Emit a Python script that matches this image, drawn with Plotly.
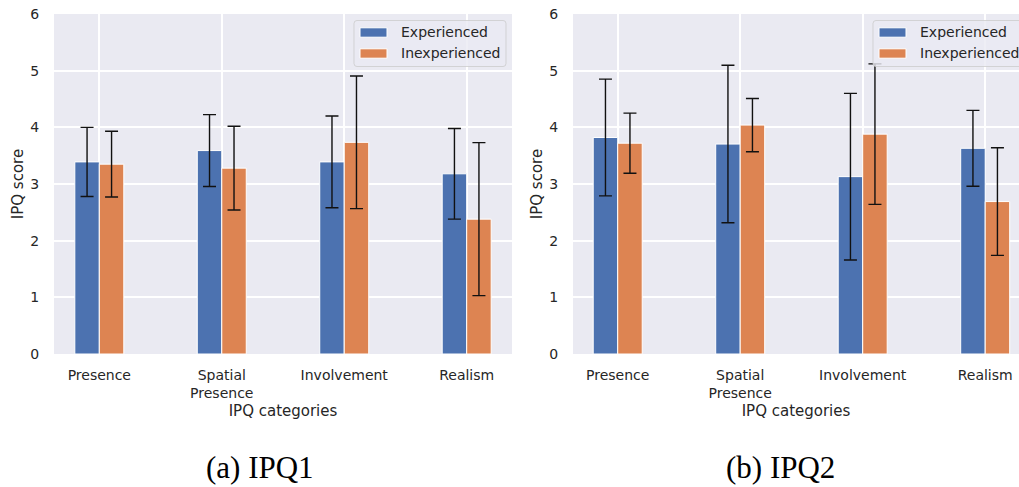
import plotly.graph_objects as go

W, H = 1019, 487

categories = ["Presence", "Spatial<br>Presence", "Involvement", "Realism"]
groups = ["Experienced", "Inexperienced"]

# IPQ1
ipq1_exp = [3.39, 3.59, 3.39, 3.18]
ipq1_exp_err = [0.61, 0.635, 0.81, 0.80]
ipq1_inexp = [3.35, 3.28, 3.735, 2.38]
ipq1_inexp_err = [0.58, 0.74, 1.17, 1.35]

# IPQ2
ipq2_exp = [3.82, 3.705, 3.13, 3.63]
ipq2_exp_err = [1.03, 1.39, 1.47, 0.67]
ipq2_inexp = [3.72, 4.04, 3.88, 2.69]
ipq2_inexp_err = [0.53, 0.47, 1.24, 0.95]

y_ticks = [0, 1, 2, 3, 4, 5, 6]
captions = ["(a) IPQ1", "(b) IPQ2"]

COLORS = ["#4C72B0", "#DD8452"]
TXT = "#262626"
BG = "#EAEAF2"


def px(x):
    return x / W


def py(y):
    return 1 - y / H


fig = go.Figure()

panels = [
    (ipq1_exp, ipq1_exp_err, ipq1_inexp, ipq1_inexp_err),
    (ipq2_exp, ipq2_exp_err, ipq2_inexp, ipq2_inexp_err),
]
for i, (e, ee, n, ne) in enumerate(panels):
    xa = "x" if i == 0 else "x2"
    ya = "y" if i == 0 else "y2"
    for vals, errs, name, col in [(e, ee, groups[0], COLORS[0]), (n, ne, groups[1], COLORS[1])]:
        fig.add_trace(go.Bar(
            x=list(range(len(categories))), y=vals, name=name,
            marker=dict(color=col, line=dict(color="white", width=1)),
            error_y=dict(type="data", array=errs, visible=True, color="#111111",
                         thickness=1.4, width=6.5),
            xaxis=xa, yaxis=ya, showlegend=False,
        ))

y0 = py(354)
y1 = py(14)
xdoms = [[px(54), px(512)], [px(573), 1.0]]
xranges = [[-0.37, 3.37], [-0.365, 3.276]]

common_x = dict(
    tickmode="array", tickvals=list(range(len(categories))), ticktext=categories,
    showgrid=True, gridcolor="white", gridwidth=1.5, zeroline=False, showline=False,
    ticks="outside", ticklen=8, tickcolor="rgba(0,0,0,0)",
    tickfont=dict(family="DejaVu Sans", size=14, color=TXT),
    title=dict(text="IPQ categories", font=dict(family="DejaVu Sans", size=15, color=TXT), standoff=5),
    automargin=False,
)
common_y = dict(
    range=[0, 6], tickmode="array", tickvals=y_ticks,
    showgrid=True, gridcolor="white", gridwidth=1.5, zeroline=False, showline=False,
    ticks="outside", ticklen=11, tickcolor="rgba(0,0,0,0)",
    tickfont=dict(family="DejaVu Sans", size=14, color=TXT),
    title=dict(text="IPQ score", font=dict(family="DejaVu Sans", size=15, color=TXT), standoff=3),
    automargin=False,
)

fig.update_layout(
    width=W, height=H,
    margin=dict(l=0, r=0, t=0, b=0),
    paper_bgcolor="white", plot_bgcolor=BG,
    barmode="group", bargap=0.6, bargroupgap=0,
    showlegend=False,
    xaxis=dict(domain=xdoms[0], range=xranges[0], anchor="y", **common_x),
    yaxis=dict(domain=[y0, y1], anchor="x", **common_y),
    xaxis2=dict(domain=xdoms[1], range=xranges[1], anchor="y2", **common_x),
    yaxis2=dict(domain=[y0, y1], anchor="x2", **common_y),
)


def rrect(xa, ya, xb, yb, r=3):
    X = lambda v: px(v)
    Y = lambda v: py(v)
    return (f"M{X(xa + r)},{Y(ya)} L{X(xb - r)},{Y(ya)} Q{X(xb)},{Y(ya)} {X(xb)},{Y(ya + r)} "
            f"L{X(xb)},{Y(yb - r)} Q{X(xb)},{Y(yb)} {X(xb - r)},{Y(yb)} "
            f"L{X(xa + r)},{Y(yb)} Q{X(xa)},{Y(yb)} {X(xa)},{Y(yb - r)} "
            f"L{X(xa)},{Y(ya + r)} Q{X(xa)},{Y(ya)} {X(xa + r)},{Y(ya)} Z")


# manual matplotlib-style legends
for lx in [354, 873]:
    fig.add_shape(type="path", path=rrect(lx, 20.5, lx + 152, 66.5), xref="paper", yref="paper",
                  fillcolor="rgba(234,234,242,0.8)", line=dict(color="rgba(204,204,204,0.8)", width=1),
                  layer="above")
    for k, (name, col) in enumerate(zip(groups, COLORS)):
        cy = 32.5 + k * 21
        fig.add_shape(type="rect", x0=px(lx + 6), x1=px(lx + 33), y0=py(cy - 4.7), y1=py(cy + 4.7),
                      xref="paper", yref="paper", fillcolor=col, line=dict(color="white", width=1),
                      layer="above")
        fig.add_annotation(x=px(lx + 45), y=py(cy), xref="paper", yref="paper", text=name,
                           showarrow=False, xanchor="left", yanchor="middle",
                           font=dict(family="DejaVu Sans", size=14, color=TXT))

for cx, cap in zip([260, 780], captions):
    fig.add_annotation(x=px(cx), y=py(467), xref="paper", yref="paper", text=cap, showarrow=False,
                       xanchor="center", yanchor="middle",
                       font=dict(family="Liberation Serif", size=31, color="black"))

fig.write_html("out.html")
